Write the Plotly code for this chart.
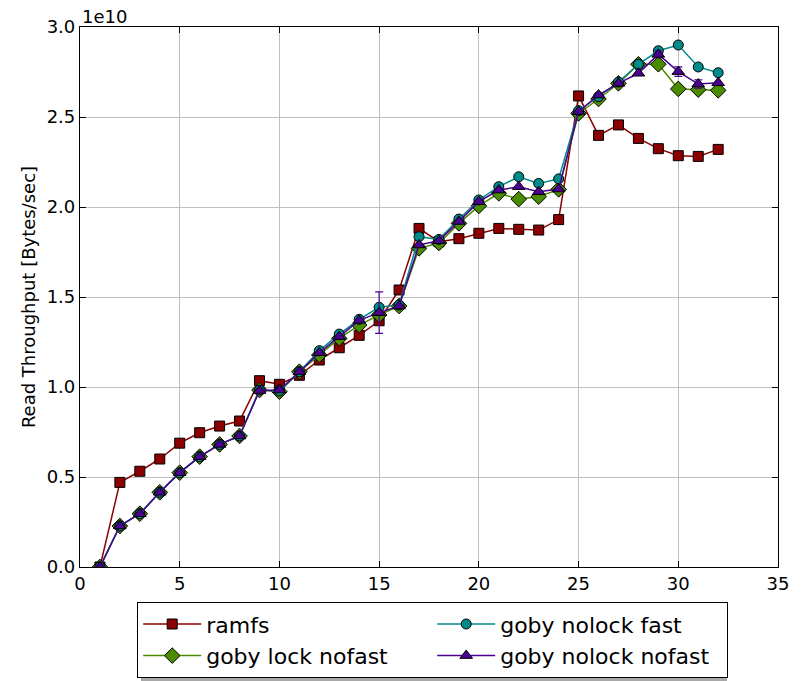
import plotly.graph_objects as go

# Thread counts on the x axis
threads = list(range(1, 33))

# Read throughput, in units of 1e10 bytes/sec
ramfs = [0.0, 0.47, 0.532, 0.60, 0.688, 0.746, 0.783, 0.811, 1.035, 1.015,
         1.065, 1.15, 1.218, 1.287, 1.368, 1.539, 1.881, 1.807, 1.824, 1.854,
         1.881, 1.876, 1.872, 1.93, 2.617, 2.398, 2.456, 2.381, 2.324, 2.285,
         2.281, 2.32]
lock_nofast = [0.0, 0.228, 0.296, 0.415, 0.524, 0.613, 0.681, 0.728, 0.983, 0.974,
               1.085, 1.178, 1.27, 1.344, 1.40, 1.45, 1.77, 1.80, 1.909, 2.006,
               2.076, 2.044, 2.057, 2.098, 2.52, 2.60, 2.687, 2.793, 2.793, 2.656,
               2.652, 2.648]
nolock_fast = [0.0, 0.228, 0.296, 0.415, 0.524, 0.613, 0.681, 0.728, 0.983, 0.978,
               1.085, 1.202, 1.294, 1.376, 1.443, 1.456, 1.835, 1.82, 1.933, 2.039,
               2.113, 2.168, 2.131, 2.156, 2.535, 2.613, 2.694, 2.793, 2.868, 2.90,
               2.778, 2.746]
nolock_nofast = [0.0, 0.228, 0.296, 0.415, 0.524, 0.613, 0.681, 0.728, 0.98, 0.983,
                 1.085, 1.19, 1.28, 1.37, 1.413, 1.45, 1.789, 1.813, 1.92, 2.03,
                 2.094, 2.113, 2.085, 2.10, 2.53, 2.622, 2.687, 2.743, 2.848, 2.752,
                 2.683, 2.69]
nolock_nofast_err = [0.0] * 14 + [0.115] + [0.0] * 13 + [0.02, 0.026, 0.023, 0.0]

x_ticks = [0, 5, 10, 15, 20, 25, 30, 35]
y_ticks = [0.0, 0.5, 1.0, 1.5, 2.0, 2.5, 3.0]
y_tick_labels = ["0.0", "0.5", "1.0", "1.5", "2.0", "2.5", "3.0"]

FONT = "DejaVu Sans"

series = [
    # name, values, color, symbol, size, legend rank
    ("ramfs", ramfs, "#8b0000", "square", 10, 1),
    ("goby lock nofast", lock_nofast, "#4b8b00", "diamond", 12, 3),
    ("goby nolock fast", nolock_fast, "#008b8b", "circle", 10, 2),
    ("goby nolock nofast", nolock_nofast, "#4b0092", "triangle-up", 11, 4),
]

fig = go.Figure()
for name, vals, color, symbol, size, rank in series:
    kw = {}
    if name == "goby nolock nofast":
        kw["error_y"] = dict(type="data", array=nolock_nofast_err, visible=True,
                             color=color, thickness=1.2, width=4)
    fig.add_trace(go.Scatter(
        x=threads, y=vals, name=name, mode="lines+markers",
        line=dict(color=color, width=1.5),
        marker=dict(symbol=symbol, size=size, color=color,
                    line=dict(color="black", width=1)),
        legendrank=rank, **kw))

W, H = 807, 681
L, R, T, B = 80, 29, 27, 114
pw, ph = W - L - R, H - T - B

def px_x(v):
    return (v - L) / pw

def px_y(v):
    return (H - B - v) / ph

# legend frame shadow
fig.add_shape(type="rect", xref="paper", yref="paper",
              x0=px_x(141), x1=px_x(727), y0=px_y(681), y1=px_y(608),
              fillcolor="#a8a8a8", line=dict(width=0), layer="above")

axis_common = dict(
    showline=True, linecolor="black", linewidth=1.2, mirror="allticks",
    ticks="inside", ticklen=6, tickwidth=1, tickcolor="black",
    showgrid=True, gridcolor="#c0c0c0", gridwidth=1, zeroline=False,
    tickfont=dict(family=FONT, size=18, color="black"),
)

fig.update_layout(
    width=W, height=H,
    margin=dict(l=L, r=R, t=T, b=B, autoexpand=False),
    paper_bgcolor="white", plot_bgcolor="white",
    font=dict(family=FONT, color="black"),
    xaxis=dict(range=[0, 35], tickvals=x_ticks, **axis_common),
    yaxis=dict(range=[0, 3.0], tickvals=y_ticks, ticktext=y_tick_labels,
               title=dict(text="Read Throughput [Bytes/sec]",
                          font=dict(family=FONT, size=18), standoff=6),
               **axis_common),
    legend=dict(
        orientation="h", x=px_x(137), xanchor="left", y=px_y(602), yanchor="top",
        entrywidth=221, bgcolor="white", bordercolor="black", borderwidth=1.2,
        font=dict(family=FONT, size=22), itemwidth=58, tracegroupgap=0,
    ),
    annotations=[dict(text="1e10", xref="paper", yref="paper", x=0, y=1,
                      xanchor="left", yanchor="bottom", showarrow=False,
                      font=dict(family=FONT, size=18), yshift=-2)],
)

fig.write_html("out.html")
